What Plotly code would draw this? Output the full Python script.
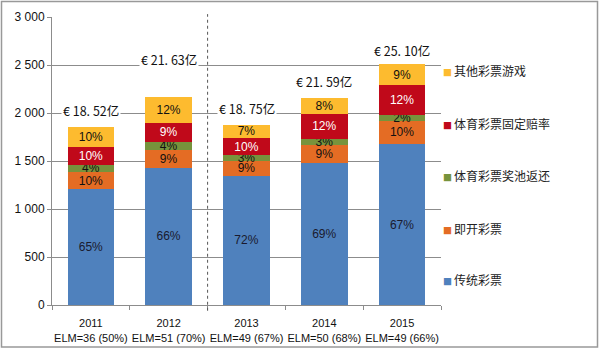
import plotly.graph_objects as go

years = ["2011", "2012", "2013", "2014", "2015"]
elm = ["ELM=36 (50%)", "ELM=51 (70%)", "ELM=49 (67%)", "ELM=50 (68%)", "ELM=49 (66%)"]
totals = [1852, 2163, 1875, 2159, 2510]
total_labels = ["€ 18. 52亿", "€ 21. 63亿", "€ 18. 75亿", "€ 21. 59亿", "€ 25. 10亿"]

series_names = ["传统彩票", "即开彩票", "体育彩票奖池返还", "体育彩票固定赔率", "其他彩票游戏"]
traditional = [1204, 1428, 1344, 1479, 1677]
instant = [185, 190, 156, 188, 240]
pool_return = [74, 85, 60, 62, 60]
fixed_odds = [185, 195, 180, 261, 315]
other = [204, 265, 135, 169, 218]

pct_traditional = ["65%", "66%", "72%", "69%", "67%"]
pct_instant = ["10%", "9%", "9%", "9%", "10%"]
pct_pool = ["4%", "4%", "3%", "3%", "2%"]
pct_fixed = ["10%", "9%", "10%", "12%", "12%"]
pct_other = ["10%", "12%", "7%", "8%", "9%"]

colors = ["#4F81BD", "#E46C24", "#77933C", "#C0091A", "#FDBB2F"]
text_colors = ["#1a1a2e", "#111111", "#111111", "#ffffff", "#111111"]

values = [traditional, instant, pool_return, fixed_odds, other]
texts = [pct_traditional, pct_instant, pct_pool, pct_fixed, pct_other]

x_labels = [f"{y}<br>{e}" for y, e in zip(years, elm)]

fig = go.Figure()
for name, vals, txt, col, tcol in zip(series_names, values, texts, colors, text_colors):
    fig.add_trace(go.Bar(
        x=x_labels, y=vals, name=name, text=txt,
        marker=dict(color=col, line=dict(width=0)),
        textposition="inside", insidetextanchor="middle",
        textfont=dict(family="Arial", size=12, color=tcol),
        showlegend=False, width=0.6,
    ))

# total labels above bars
shifts = [17, 38, 17, 16, 14]
for xl, tot, lab, s in zip(x_labels, totals, total_labels, shifts):
    fig.add_annotation(x=xl, y=tot, text=lab, showarrow=False, yshift=s,
                       yanchor="middle", bgcolor="white",
                       font=dict(family="Noto Sans CJK SC, Arial", size=12.5, color="#111111"))

# legend drawn as annotations (top to bottom)
leg_y = [70, 123, 175, 228, 279]
for i, (name, col) in enumerate(zip(series_names[::-1], colors[::-1])):
    py = leg_y[i]
    fig.add_annotation(
        xref="paper", yref="paper",
        x=(441 - 52) / 389, y=(305 - py) / 288,
        xanchor="left", yanchor="middle", showarrow=False,
        text=f"<span style='font-size:9px;color:{col}'>■ </span>{name}",
        font=dict(family="Noto Sans CJK SC", size=12, color="#222222"),
    )

# dotted separator between 2012 and 2013
fig.add_shape(type="line", xref="x", yref="paper", x0=1.5, x1=1.5, y0=-0.02, y1=1.01,
              line=dict(color="#555555", width=1, dash="dot"))

# outer frame
fig.add_shape(type="rect", xref="paper", yref="paper",
              x0=(1.5 - 52) / 389, x1=(597.5 - 52) / 389,
              y0=(305 - 347) / 288, y1=(305 - 1.5) / 288,
              line=dict(color="#999999", width=1.5), fillcolor="rgba(0,0,0,0)", layer="below")

fig.update_layout(
    width=600, height=350,
    margin=dict(l=52, r=159, t=17, b=45, autoexpand=False),
    barmode="stack", bargap=0.4,
    plot_bgcolor="white", paper_bgcolor="white",
    separators=". ",
    font=dict(family="Arial", size=12, color="#111111"),
)
fig.update_traces(constraintext="none", cliponaxis=False)
fig.update_yaxes(range=[0, 3000], dtick=500, tickformat=",d", automargin=False,
                 showgrid=True, gridcolor="#8c8c8c", gridwidth=1,
                 showline=True, linecolor="#8c8c8c", ticks="outside", ticklen=4,
                 tickcolor="#8c8c8c", tickfont=dict(size=12, color="#111111"), zeroline=False)
fig.update_xaxes(showline=True, linecolor="#8c8c8c", ticks="outside", ticklen=4,
                 tickcolor="#8c8c8c", tickson="boundaries", tickangle=0, automargin=False,
                 ticklabelstandoff=8,
                 tickfont=dict(size=11, color="#111111"))

fig.write_html("out.html")
